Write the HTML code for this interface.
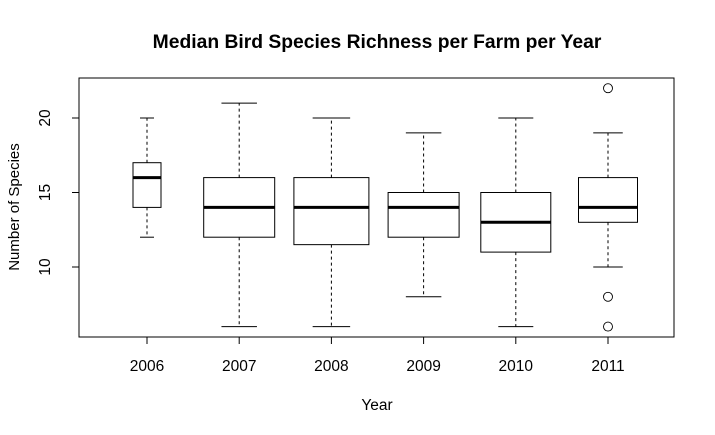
<!DOCTYPE html>
<html><head><meta charset="utf-8"><style>
body{margin:0;background:#fff}
svg{display:block;font-family:"Liberation Sans",sans-serif}
</style></head><body>
<svg id="chart" width="715" height="435" viewBox="0 0 715 435" xmlns="http://www.w3.org/2000/svg">
<rect width="715" height="435" fill="#fff"/>
<text x="377" y="48" text-anchor="middle" font-size="19.3" font-weight="bold">Median Bird Species Richness per Farm per Year</text>
<text x="377" y="410" text-anchor="middle" font-size="15.5">Year</text>
<text transform="translate(19,207) rotate(-90)" text-anchor="middle" font-size="15">Number of Species</text>
<rect x="79" y="78" width="595" height="259" fill="none" stroke="#000"/>
<g id="marks"></g>
</svg>
<script>
const years = ["2006","2007","2008","2009","2010","2011"];
const whiskLo = [12, 6, 6, 8, 6, 10];
const q1 = [14, 12, 11.5, 12, 11, 13];
const med = [16, 14, 14, 14, 13, 14];
const q3 = [17, 16, 16, 15, 15, 16];
const whiskHi = [20, 21, 20, 19, 20, 19];
const boxWidths = [28, 71, 75, 71, 70, 59];
const outlierYear = [5, 5, 5];
const outlierVal = [22, 8, 6];
const yTicks = [10, 15, 20];

const NS = "http://www.w3.org/2000/svg";
const g = document.getElementById("marks");
function y(v){ return 118 + (20 - v) * 14.9; }
function x(i){ return 147 + 92.2 * i; }
function mk(tag, attrs){ const e = document.createElementNS(NS, tag); for (const k in attrs) e.setAttribute(k, attrs[k]); g.appendChild(e); return e; }

yTicks.forEach(t => {
  const l = mk("line", {x1:72, x2:79, y1:y(t), y2:y(t), stroke:"#000"});
  
  
  const tx = mk("text", {transform:`translate(50,${y(t)}) rotate(-90)`, "text-anchor":"middle", "font-size":"15.5"});
  tx.textContent = t;
  
  
});
const ax = mk("line", {x1:x(0), x2:x(years.length-1), y1:337, y2:337, stroke:"#000"});



years.forEach((yr, i) => {
  const cx = x(i), w = boxWidths[i];
  const tk = mk("line", {x1:cx, x2:cx, y1:337, y2:344, stroke:"#000"});
  
  
  const lb = mk("text", {x:cx, y:371, "text-anchor":"middle", "font-size":"15.5"});
  lb.textContent = yr;
  
  
  const wl = mk("line", {x1:cx, x2:cx, y1:y(q1[i]), y2:y(whiskLo[i]), stroke:"#000", "stroke-dasharray":"3,3"});
  
  
  const wh = mk("line", {x1:cx, x2:cx, y1:y(q3[i]), y2:y(whiskHi[i]), stroke:"#000", "stroke-dasharray":"3,3"});
  
  
  const cl = mk("line", {x1:cx-w/4, x2:cx+w/4, y1:y(whiskLo[i]), y2:y(whiskLo[i]), stroke:"#000"});
  
  
  const ch = mk("line", {x1:cx-w/4, x2:cx+w/4, y1:y(whiskHi[i]), y2:y(whiskHi[i]), stroke:"#000"});
  
  
  const bx = mk("rect", {x:cx-w/2, y:y(q3[i]), width:w, height:y(q1[i])-y(q3[i]), fill:"#fff", stroke:"#000"});
  
  
  const md = mk("line", {x1:cx-w/2, x2:cx+w/2, y1:y(med[i]), y2:y(med[i]), stroke:"#000", "stroke-width":"3"});
  
  
});
outlierVal.forEach((v, k) => {
  const c = mk("circle", {cx:x(outlierYear[k]), cy:y(v), r:4.5, fill:"none", stroke:"#000", "stroke-width":"0.9"});
  
  
});
</script>
</body></html>
